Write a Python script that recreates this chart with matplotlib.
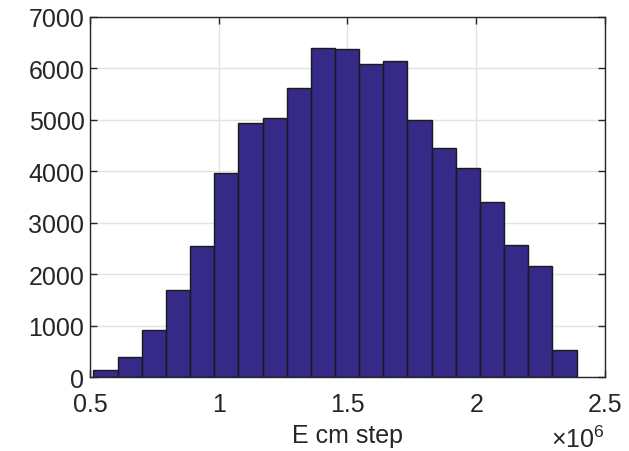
import numpy as np
import matplotlib
matplotlib.use("Agg")
import matplotlib.pyplot as plt
from matplotlib.ticker import FuncFormatter

matplotlib.rcParams.update({'xtick.direction': 'in', 'ytick.direction': 'in',
                            'font.family': ['Liberation Sans', 'DejaVu Sans'],
                            'mathtext.fontset': 'custom',
                            'mathtext.rm': 'Liberation Sans',
                            'axes.linewidth': 1.0})

# histogram data
bin_start = 0.513e6
bin_end = 2.390e6
counts = [136, 383, 914, 1692, 2553, 3960, 4945, 5042, 5613, 6397,
          6371, 6086, 6144, 4991, 4446, 4057, 3409, 2560, 2158, 519]
edges = np.linspace(bin_start, bin_end, len(counts) + 1)

x_ticks = [0.5e6, 1.0e6, 1.5e6, 2.0e6, 2.5e6]
y_ticks = [0, 1000, 2000, 3000, 4000, 5000, 6000, 7000]

txt = '#262626'
fig = plt.figure(figsize=(6.29, 4.52), dpi=100)
ax = fig.add_axes([0.1431, 0.1637, 0.8187, 0.7965])

ax.bar(edges[:-1], counts, width=np.diff(edges), align='edge',
       color='#352a87', edgecolor='#1a1a1a', linewidth=1.0, zorder=3)

ax.set_xlim(0.5e6, 2.5e6)
ax.set_ylim(0, 7000)
ax.set_xticks(x_ticks)
ax.set_yticks(y_ticks)
ax.xaxis.set_major_formatter(FuncFormatter(lambda v, p: '%g' % (v / 1e6)))
ax.grid(True, color='#e3e3e3', linewidth=1.0, zorder=0)
ax.tick_params(top=True, right=True, length=5, width=1.0, colors=txt,
               labelsize=18, labelcolor=txt)
ax.tick_params(axis='x', pad=10.5)
ax.tick_params(axis='y', pad=4)
for s in ax.spines.values():
    s.set_color(txt)
    s.set_zorder(4)

ax.set_xlabel('E cm step', fontsize=18, color=txt, labelpad=5)
ax.text(1.0, -0.135, r'$\times10^{6}$', transform=ax.transAxes,
        ha='right', va='top', fontsize=18, color=txt)

fig.savefig('out.png', dpi=100)
